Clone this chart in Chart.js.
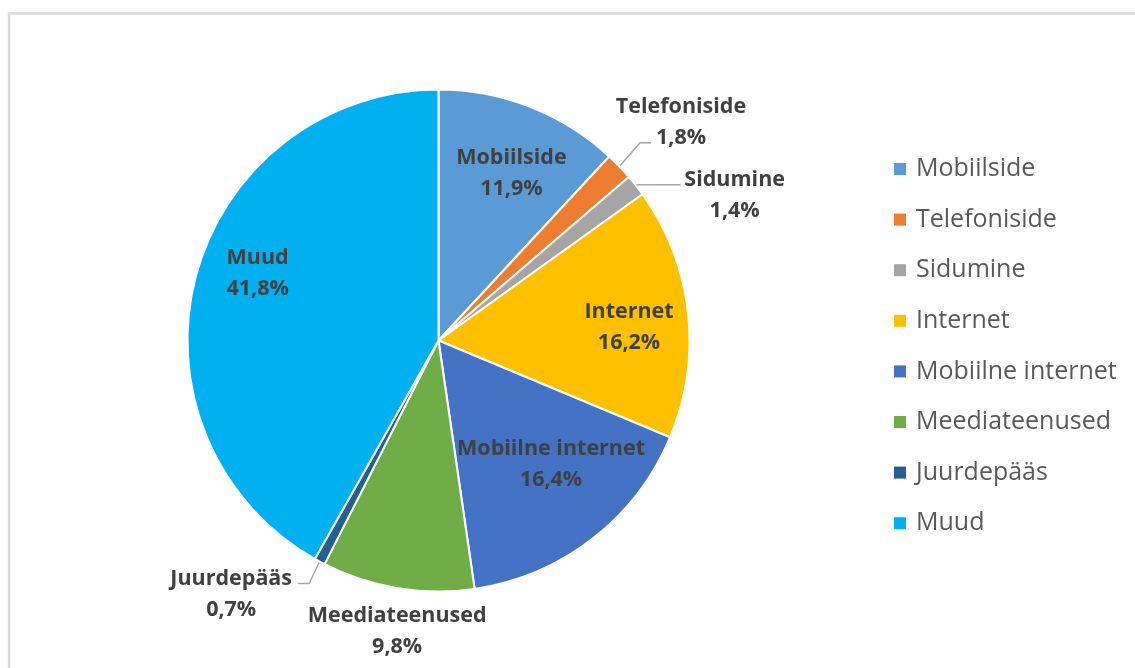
<!DOCTYPE html>
<html>
<head>
<meta charset="utf-8">
<script src="https://cdn.jsdelivr.net/npm/chart.js@4/dist/chart.umd.min.js"></script>
<style>
  html, body { margin: 0; padding: 0; background: #ffffff; }
  #wrap { width: 1135px; height: 668px; position: relative; }
</style>
</head>
<body>
<div id="wrap"><canvas id="c" width="1135" height="668"></canvas></div>
<script>
// Service shares (%)
const categories = ['Mobiilside', 'Telefoniside', 'Sidumine', 'Internet',
  'Mobiilne internet', 'Meediateenused', 'Juurdepääs', 'Muud'];
const shares = [11.9, 1.8, 1.4, 16.2, 16.4, 9.8, 0.7, 41.8];
const sliceColors = ['#5b9bd5', '#ed7d31', '#a5a5a5', '#ffc000',
  '#4472c4', '#70ad47', '#255e91', '#00b0f0'];

// Label placement per slice: inside labels sit on the mid-angle ray at a
// fraction of the radius; small slices get a leader line out of the pie.
const labelPlacement = [
  { r: 0.73, dx: 6, dy: 2 },
  { leader: { elbow: [20, -23], run: 11 }, dx: 30, dy: -22 },
  { leader: { elbow: [0, 0], run: 44 }, dx: 54, dy: 9 },
  { r: 0.76, dx: 1, dy: 7 },
  { r: 0.66, dx: 11, dy: -9 },
  { r: 1.16, dx: 6, dy: 2 },
  { leader: { elbow: [-10, 21], run: -11 }, dx: -67, dy: 9 },
  { r: 0.77, dx: 6, dy: -19 }
];

const fmt = v => v.toFixed(1).replace('.', ',') + '%';

const frame = {
  id: 'frame',
  beforeDraw(chart) {
    const ctx = chart.ctx;
    ctx.save();
    ctx.strokeStyle = '#d9d9d9';
    ctx.lineWidth = 2.5;
    ctx.strokeRect(9, 13.5, 1140, 700);
    ctx.restore();
  }
};

const sliceLabels = {
  id: 'sliceLabels',
  afterDatasetsDraw(chart) {
    const ctx = chart.ctx;
    const meta = chart.getDatasetMeta(0);
    ctx.save();
    ctx.font = 'bold 21.5px "Open Sans"';
    ctx.fillStyle = '#404040';
    ctx.textAlign = 'center';
    ctx.textBaseline = 'middle';
    meta.data.forEach((arc, i) => {
      const p = labelPlacement[i];
      const mid = (arc.startAngle + arc.endAngle) / 2;
      let cx, cy;
      if (p.leader) {
        const sx = arc.x + Math.cos(mid) * (arc.outerRadius + 1);
        const sy = arc.y + Math.sin(mid) * (arc.outerRadius + 1);
        const ex = sx + p.leader.elbow[0], ey = sy + p.leader.elbow[1];
        const hx = ex + p.leader.run;
        ctx.save();
        ctx.strokeStyle = '#a6a6a6';
        ctx.lineWidth = 1.5;
        ctx.beginPath();
        ctx.moveTo(sx, sy);
        ctx.lineTo(ex, ey);
        ctx.lineTo(hx, ey);
        ctx.stroke();
        ctx.restore();
        cx = hx + p.dx; cy = ey + p.dy;
      } else {
        const rr = arc.outerRadius * p.r;
        cx = arc.x + Math.cos(mid) * rr + p.dx;
        cy = arc.y + Math.sin(mid) * rr + p.dy;
      }
      ctx.fillText(categories[i], cx, cy - 14);
      ctx.fillText(fmt(shares[i]), cx, cy + 17);
    });
    ctx.restore();
  }
};

const sideLegend = {
  id: 'sideLegend',
  afterDraw(chart) {
    const ctx = chart.ctx;
    const x0 = 894, y0 = 169, step = 50.6, box = 12;
    ctx.save();
    ctx.font = '25px "Open Sans"';
    ctx.textBaseline = 'middle';
    ctx.textAlign = 'left';
    chart.data.labels.forEach((lab, i) => {
      const y = y0 + i * step;
      ctx.fillStyle = chart.data.datasets[0].backgroundColor[i];
      ctx.fillRect(x0, y - box / 2, box, box);
      ctx.fillStyle = '#595959';
      ctx.fillText(lab, x0 + 22, y);
    });
    ctx.restore();
  }
};

new Chart(document.getElementById('c'), {
  type: 'pie',
  data: {
    labels: categories,
    datasets: [{
      data: shares,
      backgroundColor: sliceColors,
      borderColor: '#ffffff',
      borderWidth: 2
    }]
  },
  options: {
    responsive: false,
    animation: false,
    layout: { padding: { left: 186.5, top: 88.5, right: 444.5, bottom: 75.5 } },
    plugins: {
      legend: { display: false },
      tooltip: { enabled: false }
    }
  },
  plugins: [frame, sliceLabels, sideLegend]
});
</script>
</body>
</html>
